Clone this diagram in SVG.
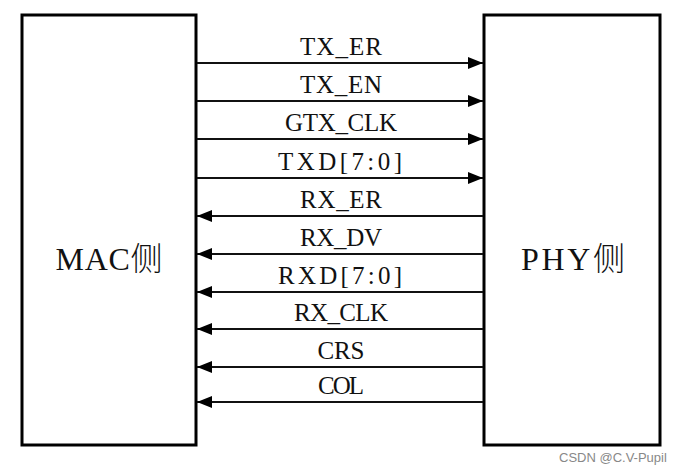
<svg xmlns="http://www.w3.org/2000/svg" width="687" height="474" viewBox="0 0 687 474">
<style>
.box{fill:#fff;stroke:#000;stroke-width:3}
.sig{font-family:"Liberation Serif","Times New Roman",serif;font-size:25px;fill:#111;text-anchor:middle}
.big{font-family:"Liberation Serif","Noto Sans CJK SC",serif;font-size:32px;fill:#111;text-anchor:middle}
.cjk{font-family:"Noto Sans CJK SC",sans-serif;font-weight:300}
.ln{stroke:#111;stroke-width:1.8;fill:none}
.wm{font-family:"Liberation Sans",Arial,sans-serif;font-size:13px;fill:#888}
</style>
<defs>
<marker id="ah" viewBox="0 0 15 12" refX="15" refY="6" markerWidth="15" markerHeight="12" markerUnits="userSpaceOnUse" orient="auto">
<path d="M0,0 L15,6 L0,12 Z" fill="#000"/>
</marker>
</defs>
<rect width="687" height="474" fill="#fff"/>
<g id="mac">
<rect class="box" x="22" y="15" width="174" height="430"/>
<text class="big" x="109" y="270" textLength="107" lengthAdjust="spacing">MAC<tspan class="cjk">侧</tspan></text>
</g>
<g id="phy">
<rect class="box" x="484" y="15" width="176" height="430"/>
<text class="big" x="573" y="270" textLength="104" lengthAdjust="spacing">PHY<tspan class="cjk">侧</tspan></text>
</g>
<g id="connectors">
<line class="ln" x1="197" y1="63" x2="483" y2="63" marker-end="url(#ah)"/>
<line class="ln" x1="197" y1="101" x2="483" y2="101" marker-end="url(#ah)"/>
<line class="ln" x1="197" y1="139" x2="483" y2="139" marker-end="url(#ah)"/>
<line class="ln" x1="197" y1="178" x2="483" y2="178" marker-end="url(#ah)"/>
<line class="ln" x1="483" y1="216" x2="197" y2="216" marker-end="url(#ah)"/>
<line class="ln" x1="483" y1="254" x2="197" y2="254" marker-end="url(#ah)"/>
<line class="ln" x1="483" y1="292" x2="197" y2="292" marker-end="url(#ah)"/>
<line class="ln" x1="483" y1="329" x2="197" y2="329" marker-end="url(#ah)"/>
<line class="ln" x1="483" y1="367" x2="197" y2="367" marker-end="url(#ah)"/>
<line class="ln" x1="483" y1="402" x2="197" y2="402" marker-end="url(#ah)"/>
</g>
<g id="labels">
<text class="sig" x="341" y="55" textLength="82" lengthAdjust="spacing">TX_ER</text>
<text class="sig" x="341" y="93" textLength="82" lengthAdjust="spacing">TX_EN</text>
<text class="sig" x="341" y="131" textLength="112" lengthAdjust="spacing">GTX_CLK</text>
<text class="sig" x="340" y="170" textLength="124" lengthAdjust="spacing">TXD[7:0]</text>
<text class="sig" x="341" y="208" textLength="82" lengthAdjust="spacing">RX_ER</text>
<text class="sig" x="341" y="246" textLength="82" lengthAdjust="spacing">RX_DV</text>
<text class="sig" x="340" y="284" textLength="124" lengthAdjust="spacing">RXD[7:0]</text>
<text class="sig" x="341" y="321" textLength="94" lengthAdjust="spacing">RX_CLK</text>
<text class="sig" x="341" y="359" textLength="47" lengthAdjust="spacing">CRS</text>
<text class="sig" x="341" y="394" textLength="46" lengthAdjust="spacing">COL</text>
</g>
<text class="wm" x="559" y="462">CSDN @C.V-Pupil</text>
</svg>
